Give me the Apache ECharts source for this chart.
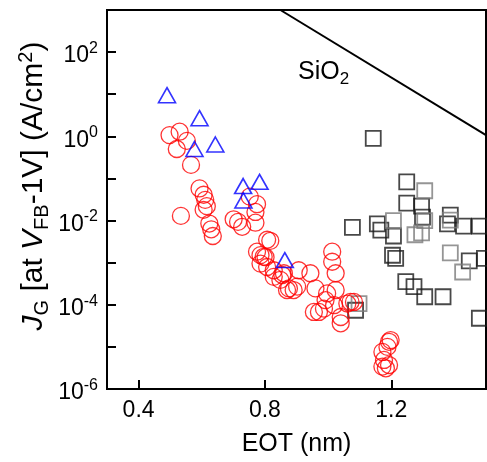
<!DOCTYPE html>
<html><head><meta charset="utf-8">
<script src="https://cdn.jsdelivr.net/npm/echarts@6/dist/echarts.min.js"></script>
<style>html,body{margin:0;padding:0;background:#fff}#c{width:487px;height:462px}</style>
</head><body><div id="c"></div>
<script>
const xTicks = [0.4, 0.8, 1.2];
const yTicks = [1e-6, 1e-5, 1e-4, 1e-3, 1e-2, 1e-1, 1, 10, 100, 1000];
const yLabelTicks = [1e-6, 1e-4, 1e-2, 1, 100];

const redCircles = [
  [0.498,1.07],[0.530,1.29],[0.553,0.78],[0.521,0.50],[0.566,0.21],[0.534,0.0129],
  [0.593,0.058],[0.606,0.041],[0.611,0.031],[0.616,0.022],[0.606,0.018],[0.624,0.0085],[0.630,0.0062],[0.635,0.0043],
  [0.701,0.0107],[0.715,0.0093],[0.728,0.0071],[0.752,0.037],
  [0.775,0.0245],[0.770,0.016],[0.770,0.0089],[0.807,0.0035],[0.817,0.0033],
  [0.796,0.00138],[0.786,0.00095],[0.807,0.00079],[0.828,0.00066],[0.860,0.00056],[0.876,0.000245],
  [0.907,0.00066],[0.944,0.00056],[0.960,0.000245],[0.971,0.0000676],[0.992,0.000129],
  [1.013,0.00182],[1.013,0.00105],[1.024,0.00056],[1.024,0.000224],[1.019,0.0000977],[1.040,0.0000513],
  [1.061,0.000107],[1.071,0.000117],[1.040,0.0000363],[1.082,0.000117],
  [0.786,0.00151],[0.802,0.00135],[0.855,0.00051],[0.891,0.000224],[0.955,0.0000676],
  [0.775,0.00182],[0.828,0.00046],[0.849,0.00039],[0.870,0.000224],[0.902,0.00027],
  [0.997,0.000186],[0.987,0.000081],
  [1.198,1.45e-5],[1.193,1.32e-5],[1.188,1.0e-5],[1.172,7.6e-6],[1.177,4.9e-6],[1.193,3.7e-6],[1.183,3.1e-6],[1.172,3.4e-6]
];
const blueTriangles = [
  [0.490,9.5],[0.593,2.7],[0.577,0.50],[0.643,0.64],[0.731,0.066],[0.783,0.083],[0.732,0.030],[0.863,0.00115]
];
const blackSquares = [
  [1.143,0.89],[1.249,0.083],[1.249,0.026],[1.296,0.022],[1.299,0.012],[1.077,0.0069],[1.156,0.0083],[1.167,0.0059],
  [1.207,0.0043],[1.387,0.0135],[1.378,0.0083],[1.429,0.0074],[1.479,0.0074],[1.204,0.0015],[1.214,0.00126],
  [1.447,0.0011],[1.495,0.00126],[1.246,0.000355],[1.272,0.000269],[1.306,0.000155],[1.364,0.000155],
  [1.479,0.0000479],[1.087,0.0000741]
];
const graySquares = [
  [1.306,0.051],[1.207,0.010],[1.306,0.010],[1.275,0.0046],[1.296,0.0051],[1.387,0.0102],[1.387,0.0017],[1.426,0.0006],[1.098,0.000107]
];
const sio2Line = [[0.849,1000],[1.5,1.07]];

const FONT = 'Liberation Sans';
const chart = echarts.init(document.getElementById('c'), null, {renderer:'canvas'});
const option = {
  animation: false,
  backgroundColor: '#fff',
  grid: {left:107, right:1, top:10, bottom:73, show:true, borderColor:'#000', borderWidth:2, backgroundColor:'transparent'},
  xAxis: {
    type:'value', min:0.3, max:1.5,
    axisLine:{show:true, onZero:false, lineStyle:{color:'#000', width:2}},
    axisTick:{show:true, inside:true, length:9, customValues:xTicks, lineStyle:{color:'#000', width:2}},
    axisLabel:{show:true, customValues:xTicks, formatter:v=>v.toFixed(1), fontSize:23, fontFamily:FONT, color:'#000', margin:10},
    splitLine:{show:false},
    name:'EOT (nm)', nameLocation:'middle', nameGap:43,
    nameTextStyle:{fontSize:25, fontFamily:FONT, color:'#000'}
  },
  yAxis: {
    type:'log', logBase:10, min:1e-6, max:1e3,
    axisLine:{show:true, onZero:false, lineStyle:{color:'#000', width:2}},
    axisTick:{show:true, inside:true, length:9, customValues:yTicks, lineStyle:{color:'#000', width:2}},
    axisLabel:{show:true, customValues:yLabelTicks, margin:9,
      formatter:function(v){ const e=Math.round(Math.log10(v)); return '{b|10}{s|'+e+'}'; },
      rich:{
        b:{fontSize:23, fontFamily:FONT, color:'#000', lineHeight:23, padding:[8,0,0,0]},
        s:{fontSize:16, fontFamily:FONT, color:'#000', lineHeight:16, verticalAlign:'top'}
      }
    },
    splitLine:{show:false}
  },
  series: [
    {type:'scatter', data:blackSquares, symbol:'rect', symbolSize:15, z:2,
      itemStyle:{color:'transparent', borderColor:'#1a1a1a', borderWidth:1.8}},
    {type:'scatter', data:graySquares, symbol:'rect', symbolSize:15, z:3,
      itemStyle:{color:'transparent', borderColor:'#7a7a7a', borderWidth:1.8}},
    {type:'scatter', data:redCircles, symbol:'circle', symbolSize:17, z:4,
      itemStyle:{color:'transparent', borderColor:'#ff0000', borderWidth:1.3}},
    {type:'scatter', data:blueTriangles, symbol:'triangle', symbolSize:[17,15], z:5,
      itemStyle:{color:'transparent', borderColor:'#0000ff', borderWidth:1.6}},
    {type:'line', data:sio2Line, symbol:'none', clip:true, z:6,
      lineStyle:{color:'#000', width:2}}
  ],
  graphic: [
    {type:'text', x:34, y:186, rotation:Math.PI/2, z:10,
      style:{
        text:'{i|J}{sub|G}{n| [at }{i|V}{sub|FB}{n|-1V] (A/cm}{sup|2}{n|)}',
        align:'center', verticalAlign:'middle', fill:'#000',
        rich:{
          n:{fontSize:30, fontFamily:FONT, fill:'#000', lineHeight:36},
          i:{fontSize:30, fontFamily:FONT, fontStyle:'italic', fill:'#000', lineHeight:36},
          sub:{fontSize:20, fontFamily:FONT, fill:'#000', lineHeight:17, verticalAlign:'bottom'},
          sup:{fontSize:20, fontFamily:FONT, fill:'#000', lineHeight:17, verticalAlign:'top'}
        }
      }
    },
    {type:'text', x:298, y:72, z:10,
      style:{
        text:'{n|SiO}{sub|2}',
        align:'left', verticalAlign:'middle', fill:'#000',
        rich:{
          n:{fontSize:25, fontFamily:FONT, fill:'#000', lineHeight:32},
          sub:{fontSize:17, fontFamily:FONT, fill:'#000', lineHeight:15, verticalAlign:'bottom'}
        }
      }
    }
  ]
};
chart.setOption(option);
</script>
</body></html>
